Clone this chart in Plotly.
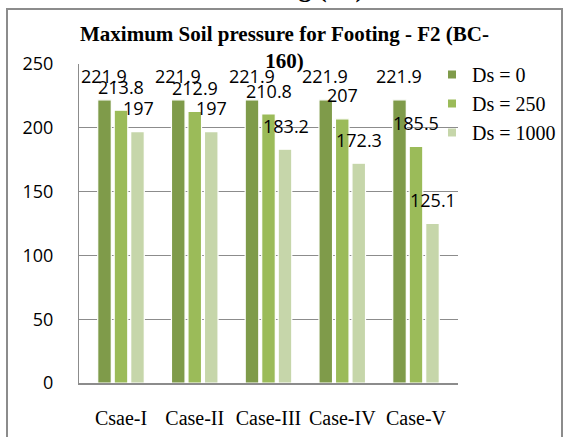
import plotly.graph_objects as go

categories = ["Csae-I", "Case-II", "Case-III", "Case-IV", "Case-V"]
series_names = ["Ds = 0", "Ds = 250", "Ds = 1000"]
ds0 = [221.9, 221.9, 221.9, 221.9, 221.9]
ds250 = [213.8, 212.9, 210.8, 207, 185.5]
ds1000 = [197, 197, 183.2, 172.3, 125.1]
y_ticks = [0, 50, 100, 150, 200, 250]

colors = ["#7F9B4A", "#9BBB59", "#C6D6AA"]
series = [ds0, ds250, ds1000]

W, H = 567, 437
L, R, T, B = 79, 109, 64, 54
pw, ph = W - L - R, H - T - B

fig = go.Figure()
for name, vals, col in zip(series_names, series, colors):
    fig.add_trace(go.Bar(x=categories, y=vals, name=name, showlegend=False,
                         marker=dict(color=col, line=dict(color="white", width=1.2))))
for i, (name, col) in enumerate(zip(series_names, colors)):
    fig.add_trace(go.Scatter(x=[None], y=[None], mode="markers", name=name,
                             legendgroup=name,
                             marker=dict(symbol="square", size=8, color=col)))

ann = []
slot = 17
for i, vals in enumerate(series):
    for c, v in zip(categories, vals):
        ann.append(dict(x=c, y=v, xref="x", yref="y", text=f"{v:g}", showarrow=False,
                        xshift=(i - 1) * slot, yshift=23.5, yanchor="middle",
                        font=dict(family="Open Sans", size=18, color="black")))

# clipped caption above the chart box
ann.append(dict(xref="paper", yref="paper", x=(281 - L) / pw, y=(ph + T - 4.5) / ph,
                yanchor="bottom", xanchor="center", showarrow=False,
                text="<b>of Footing (F2)</b>",
                font=dict(family="Liberation Serif", size=26, color="black")))

fig.update_layout(
    width=W, height=H,
    margin=dict(l=L, r=R, t=T, b=B, autoexpand=False),
    paper_bgcolor="white", plot_bgcolor="white",
    barmode="group", bargap=0.329, bargroupgap=0.176,
    title=dict(text="<b>Maximum Soil pressure for Footing - F2 (BC-<br>160)</b>",
               xref="container", x=(284.5) / W, xanchor="center",
               yref="container", y=1 - 41 / H, yanchor="top",
               font=dict(family="Liberation Serif", size=21, color="black")),
    xaxis=dict(showgrid=False, showline=True, linecolor="#8C8C8C", linewidth=1.5,
               ticks="outside", ticklen=16, tickcolor="rgba(0,0,0,0)",
               tickfont=dict(family="Liberation Serif", size=20, color="black")),
    yaxis=dict(range=[0, 250], tickvals=y_ticks, showgrid=True, gridcolor="#8C8C8C",
               gridwidth=1.2, showline=True, linecolor="#8C8C8C", linewidth=1,
               zeroline=False,
               ticks="outside", ticklen=21, tickcolor="rgba(0,0,0,0)",
               tickfont=dict(family="Open Sans", size=18, color="black")),
    legend=dict(xref="container", yref="container", x=432 / W, y=1 - 55 / H,
                xanchor="left", yanchor="top",
                font=dict(family="Liberation Serif", size=20, color="black"),
                bgcolor="rgba(0,0,0,0)", tracegroupgap=0),
    annotations=ann,
    shapes=[dict(type="rect", xref="paper", yref="paper",
                 x0=(7 - L) / pw, x1=(562 - L) / pw,
                 y0=(ph + T - 450) / ph, y1=(ph + T - 9) / ph,
                 line=dict(color="#8C8C8C", width=2), fillcolor="rgba(0,0,0,0)", layer="above")],
)

fig.write_html("out.html", config={"displayModeBar": False},
               post_script="document.body.style.margin='0';")
